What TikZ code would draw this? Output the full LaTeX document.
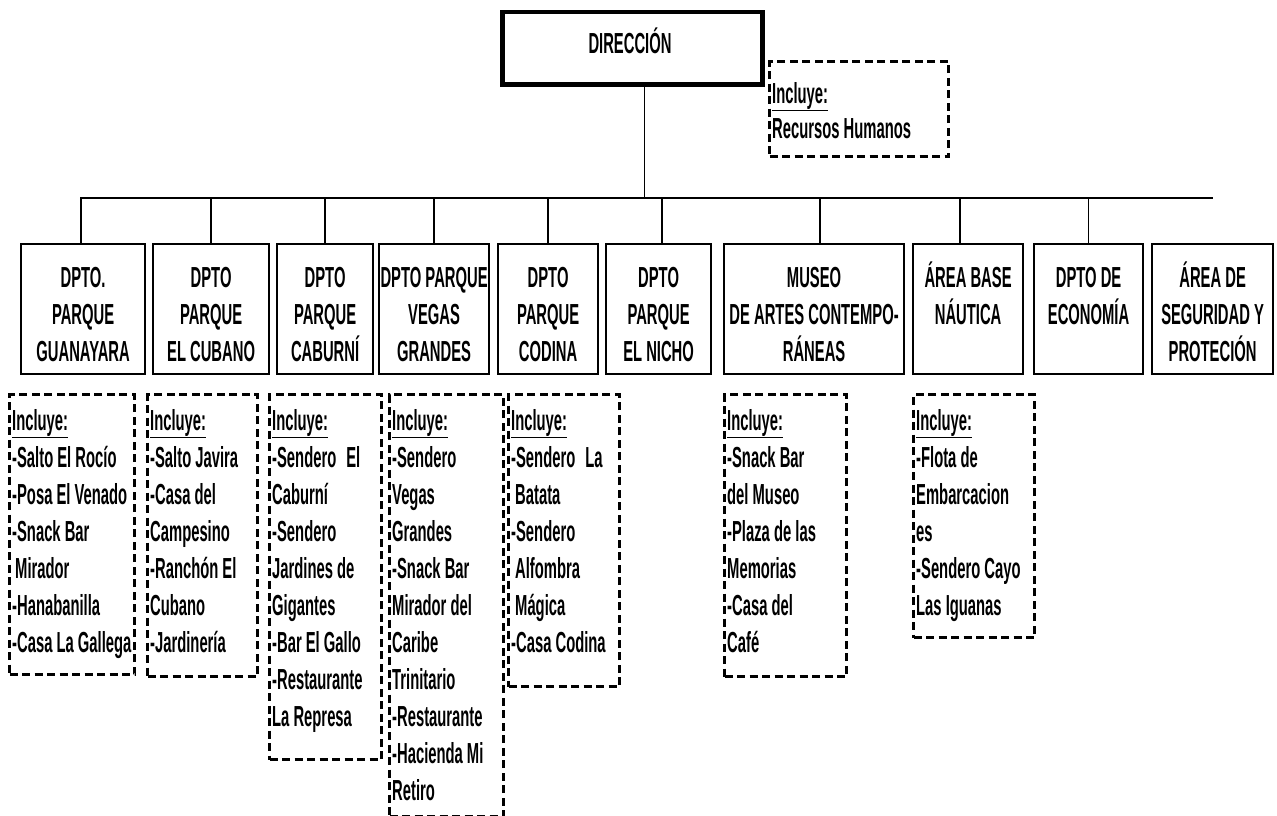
\documentclass[tikz,border=0pt]{standalone}
\usepackage{fontspec}
\newfontfamily\orgfont{Liberation Sans}[FakeStretch=0.51]
\newcommand{\firstrow}{\rule{0pt}{28pt}}
\begin{document}
\begin{tikzpicture}[x=1pt,y=-1pt,
  orgtext/.style={inner sep=0pt,font=\orgfont\bfseries\fontsize{29}{37}\selectfont},
  conn/.style={line width=1.3pt},
  topbox/.style={draw,line width=4.5pt,anchor=north west,inner sep=0pt},
  deptbox/.style={draw,line width=2.2pt,anchor=north west,inner sep=0pt,minimum height=130pt},
  depttext/.style={orgtext,anchor=north,align=center},
  incbox/.style={draw,line width=3.1pt,dash pattern=on 8pt off 4.5pt,anchor=north west,inner sep=0pt},
  inctext/.style={orgtext,anchor=north west,align=left}]
\useasboundingbox (0,0) rectangle (1277,816);

% top of the chart
\node[topbox,minimum width=260pt,minimum height=72pt] (dir) at (500,10) {};
\node[depttext] (dirlabel) at (630,25) {\firstrow DIRECCIÓN};
\node[incbox,minimum width=179pt,minimum height=95pt] (rh) at (768,60) {};
\node[inctext,font=\orgfont\bfseries\fontsize{29}{35}\selectfont] (rhtext) at ([xshift=4pt,yshift=-15pt]rh.north west)
  {\firstrow\underline{Incluye:}\\Recursos Humanos};

% horizontal bus
\coordinate (busL) at (80,198);
\coordinate (busR) at (1213,198);
\draw[conn] (busL) -- (busR);
\draw[conn] ([xshift=12pt]dir.south) -- ([xshift=12pt]dir.south |- busL);

% departments
\node[deptbox,minimum width=124pt] (b1) at (20,243) {};
\node[deptbox,minimum width=116pt] (b2) at (152,243) {};
\node[deptbox,minimum width=96pt]  (b3) at (276,243) {};
\node[deptbox,minimum width=110pt] (b4) at (378,243) {};
\node[deptbox,minimum width=100pt] (b5) at (497,243) {};
\node[deptbox,minimum width=105pt] (b6) at (605,243) {};
\node[deptbox,minimum width=180pt] (b7) at (723,243) {};
\node[deptbox,minimum width=110pt] (b8) at (912,243) {};
\node[deptbox,minimum width=109pt] (b9) at (1033,243) {};
\node[deptbox,minimum width=121pt] (b10) at (1151,243) {};

\foreach \b/\s in {b1/-2,b2/0,b3/0,b4/0,b5/0,b6/3.5,b7/6,b8/-8,b9/0}
  \draw[conn] ([xshift=\s pt]\b.north) -- ([xshift=\s pt]\b.north |- busL);

\node[depttext] (t1) at ([yshift=-16pt]b1.north) {\firstrow DPTO.\\PARQUE\\GUANAYARA};
\node[depttext] (t2) at ([yshift=-16pt]b2.north) {\firstrow DPTO\\PARQUE\\EL CUBANO};
\node[depttext] (t3) at ([yshift=-16pt]b3.north) {\firstrow DPTO\\PARQUE\\CABURNÍ};
\node[depttext] (t4) at ([yshift=-16pt]b4.north) {\firstrow DPTO PARQUE\\VEGAS\\GRANDES};
\node[depttext] (t5) at ([yshift=-16pt]b5.north) {\firstrow DPTO\\PARQUE\\CODINA};
\node[depttext] (t6) at ([yshift=-16pt]b6.north) {\firstrow DPTO\\PARQUE\\EL NICHO};
\node[depttext] (t7) at ([yshift=-16pt]b7.north) {\firstrow MUSEO\\DE ARTES CONTEMPO-\\RÁNEAS};
\node[depttext] (t8) at ([yshift=-16pt]b8.north) {\firstrow ÁREA BASE\\NÁUTICA};
\node[depttext] (t9) at ([yshift=-16pt]b9.north) {\firstrow DPTO DE\\ECONOMÍA};
\node[depttext] (t10) at ([yshift=-16pt]b10.north) {\firstrow ÁREA DE\\SEGURIDAD Y\\PROTECIÓN};

% what each department includes
\node[incbox,minimum width=125pt,minimum height=280pt] (d1) at (8,393) {};
\node[incbox,minimum width=110pt,minimum height=282pt] (d2) at (146,393) {};
\node[incbox,minimum width=112pt,minimum height=365pt] (d3) at (268,393) {};
\node[incbox,minimum width=114pt,minimum height=422pt] (d4) at (388,393) {};
\node[incbox,minimum width=111pt,minimum height=292pt] (d5) at (507,393) {};
\node[incbox,minimum width=122pt,minimum height=282pt] (d6) at (723,393) {};
\node[incbox,minimum width=121pt,minimum height=243pt] (d7) at (912,393) {};

\node[inctext] (i1) at ([xshift=4pt,yshift=-9pt]d1.north west)
  {\firstrow\underline{Incluye:}\\-Salto El Rocío\\-Posa El Venado\\-Snack Bar\\\hspace{3pt}Mirador\\-Hanabanilla\\-Casa La Gallega};
\node[inctext] (i2) at ([xshift=4pt,yshift=-9pt]d2.north west)
  {\firstrow\underline{Incluye:}\\-Salto Javira\\-Casa del\\Campesino\\-Ranchón El\\Cubano\\-Jardinería};
\node[inctext] (i3) at ([xshift=4pt,yshift=-9pt]d3.north west)
  {\firstrow\underline{Incluye:}\\-Sendero\hspace{10pt}El\\Caburní\\-Sendero\\Jardines de\\Gigantes\\-Bar El Gallo\\-Restaurante\\La Represa};
\node[inctext] (i4) at ([xshift=4pt,yshift=-9pt]d4.north west)
  {\firstrow\underline{Incluye:}\\-Sendero\\Vegas\\Grandes\\-Snack Bar\\Mirador del\\Caribe\\Trinitario\\-Restaurante\\-Hacienda Mi\\Retiro};
\node[inctext] (i5) at ([xshift=4pt,yshift=-9pt]d5.north west)
  {\firstrow\underline{Incluye:}\\-Sendero\hspace{10pt}La\\\hspace{4pt}Batata\\-Sendero\\\hspace{4pt}Alfombra\\\hspace{4pt}Mágica\\-Casa Codina};
\node[inctext] (i6) at ([xshift=4pt,yshift=-9pt]d6.north west)
  {\firstrow\underline{Incluye:}\\-Snack Bar\\del Museo\\-Plaza de las\\Memorias\\-Casa del\\Café};
\node[inctext] (i7) at ([xshift=4pt,yshift=-9pt]d7.north west)
  {\firstrow\underline{Incluye:}\\-Flota de\\Embarcacion\\es\\-Sendero Cayo\\Las Iguanas};
\end{tikzpicture}
\end{document}
